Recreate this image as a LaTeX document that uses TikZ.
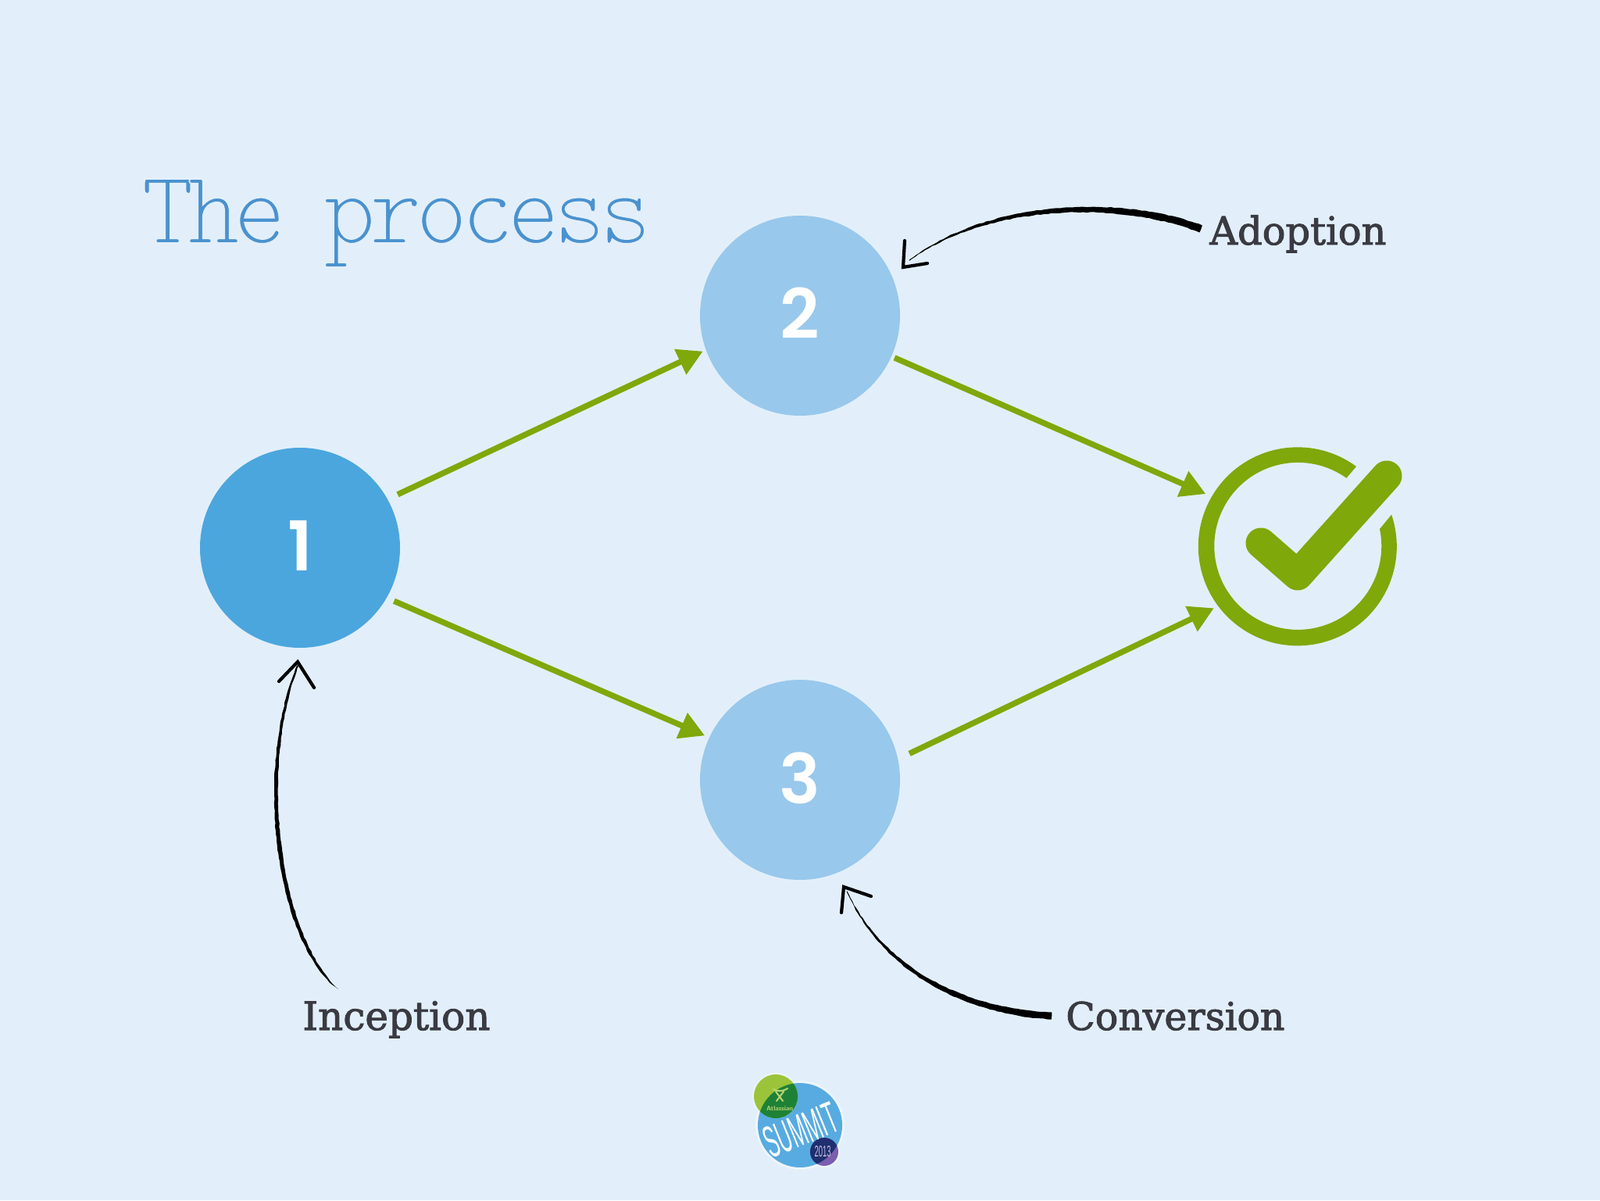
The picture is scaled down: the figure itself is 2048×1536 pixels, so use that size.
\documentclass[tikz,border=0pt]{standalone}
\usepackage{fontspec}
\usepackage{graphicx}
\usetikzlibrary{arrows.meta,calc,decorations.pathmorphing}
\newfontfamily\titlefont{Latin Modern Mono Light}[LetterSpace=-6]
\newfontfamily\handfont{DejaVu Serif}
\newfontfamily\numfont{Poppins SemiBold}
\newfontfamily\logofont{Liberation Sans}
\definecolor{bgc}{HTML}{E2EFFA}
\definecolor{dark}{HTML}{4BA6DE}
\definecolor{pale}{HTML}{98C8EC}
\definecolor{grn}{HTML}{7FA80A}
\definecolor{ttl}{HTML}{4A92CF}
\definecolor{hand}{HTML}{3A3A42}
\definecolor{lgreen}{HTML}{9CC43A}
\definecolor{dgreen}{HTML}{1E8236}
\definecolor{lblue}{HTML}{58ABE0}
\definecolor{navy}{HTML}{1F2F6F}
\definecolor{purp}{HTML}{7B5EAD}
\newcommand{\thinner}{\special{pdf:code 2 Tr 0.886 0.937 0.98 RG 0.12 w}}
\newcommand{\heavier}{\special{pdf:code 2 Tr 0.227 0.227 0.259 RG 0.2 w}}
\newcommand{\plaintr}{\special{pdf:code 0 Tr 1 w}}
\tikzset{
  numcircle/.style={circle,minimum size=128pt,inner sep=0pt,text=white,font=\numfont\fontsize{44pt}{44pt}\selectfont},
  flow/.style={draw=grn,line width=3.7pt,-{Triangle[length=16pt,width=17pt,fill=grn]}},
  handlabel/.style={inner sep=0pt,anchor=base west,text=hand},
  brushfill/.style={fill=black,decorate,decoration={random steps,segment length=2.5pt,amplitude=.25pt}},
  brushhead/.style={draw=black,line width=2.1pt,line join=miter,line cap=round},
}
% #1 start #2 ctrl #3 ctrl #4 tip #5,#6 half width offset at start
\newcommand{\brushcurve}[6]{%
  \fill[brushfill] ($(#1)+(#5,#6)$) .. controls ($(#2)+0.85*(#5,#6)$) and ($(#3)+0.65*(#5,#6)$) .. ($(#4)+0.2*(#5,#6)$)
     -- ($(#4)-0.2*(#5,#6)$) .. controls ($(#3)-0.65*(#5,#6)$) and ($(#2)-0.85*(#5,#6)$) .. ($(#1)-(#5,#6)$) -- cycle;}
\begin{document}
\begin{tikzpicture}[x=0.5pt,y=-0.5pt]
\useasboundingbox (0,0) rectangle (2048,1536);
\fill[bgc] (0,0) rectangle (2048,1536);
% title
\node[anchor=base west,inner sep=0pt,text=ttl] (title) at (181,311) {\thinner\resizebox{326pt}{41pt}{\titlefont The\hspace{-.08em} process}\plaintr};
% circles
\node[numcircle,fill=dark] (c1) at (384,701) {\raisebox{3pt}{1}};
\node[numcircle,fill=pale] (c2) at (1024,404) {\raisebox{3.2pt}{2}};
\node[numcircle,fill=pale] (c3) at (1024,998) {\raisebox{2.6pt}{3}};
\node[circle,minimum size=127pt,inner sep=0pt] (done) at (1661,699) {};
% check icon
\fill[grn] (1736,597) arc[start angle=-53.7,end angle=-378.7,radius=127] -- (1766,677)
   arc[start angle=-371.8,end angle=-54.5,radius=107] -- cycle;
\draw[grn,line width=19.5pt,line cap=round,line join=round] (1775,609) -- (1661,736) -- (1614,695);
% flows
\draw[flow,shorten <=7pt,shorten >=2pt] (c1.29) -- (c2.200);
\draw[flow,shorten <=2pt,shorten >=4pt] (c2.-24) -- (done.150);
\draw[flow,shorten <=5pt,shorten >=3pt] (c1.-30) -- (c3.155);
\draw[flow,shorten <=8pt,shorten >=3pt] (c3.12) -- (done.217);
% hand labels
\node[handlabel] (adoption) at (1548,313) {\heavier\resizebox{113pt}{!}{\handfont Adoption}\plaintr};
\node[handlabel] (inception) at (387,1318) {\heavier\resizebox{120pt}{!}{\handfont Inception}\plaintr};
\node[handlabel] (conversion) at (1364,1318) {\heavier\resizebox{140pt}{!}{\handfont Conversion}\plaintr};
% brush arrows
\coordinate (aS) at (1537,293); \coordinate (aA) at (1440,255); \coordinate (aB) at (1270,255); \coordinate (aT) at (1164,333); \coordinate (aH) at (1156,342);
\brushcurve{aS}{aA}{aB}{aT}{1.8}{-4.5}
\draw[brushhead] (1158,308) -- (aH) -- (1187,337);
\coordinate (iS) at (429,1263); \coordinate (iA) at (352,1190); \coordinate (iB) at (330,980); \coordinate (iT) at (381,852); \coordinate (iH) at (381,847);
\brushcurve{iS}{iA}{iB}{iT}{4}{3}
\draw[brushhead] (357,872) -- (iH) -- (402,880);
\coordinate (cS) at (1346,1300); \coordinate (cA) at (1245,1295); \coordinate (cB) at (1135,1250); \coordinate (cT) at (1084,1141); \coordinate (cH) at (1080,1135);
\brushcurve{cS}{cA}{cB}{cT}{0.4}{-4.5}
\draw[brushhead] (1077,1168) -- (cH) -- (1115,1147);
% logo
\fill[white,opacity=.4] (1024,1440) circle (57) (993,1403) circle (30) (1055,1474) circle (20);
\fill[lblue] (1024,1440) circle (54);
\fill[lgreen] (993,1403) circle (28);
\begin{scope}
  \clip (1024,1440) circle (54);
  \fill[dgreen] (993,1403) circle (28);
\end{scope}
\fill[purp] (1055,1474) circle (18);
\begin{scope}
  \clip (1024,1440) circle (54);
  \fill[navy] (1055,1474) circle (18);
\end{scope}
\node[inner sep=0pt,text=white,rotate=22] (summit) at (1025,1446) {\resizebox{48pt}{20pt}{\logofont SUMMIT}};
\node[inner sep=0pt,text=lgreen!70!white] (atl) at (998,1419) {\resizebox{17pt}{!}{\sffamily\bfseries Atlassian}};
\node[inner sep=0pt,text=purp!40!white] (yr) at (1053,1474) {\resizebox{10.5pt}{7pt}{\logofont 2013}};
\draw[lgreen!70!white,line width=1pt,line cap=round] (993,1397) -- (1002,1409) (1003,1397) -- (994,1409) (990,1394) .. controls (997,1397) and (1001,1397) .. (1008,1393);
\end{tikzpicture}
\end{document}
